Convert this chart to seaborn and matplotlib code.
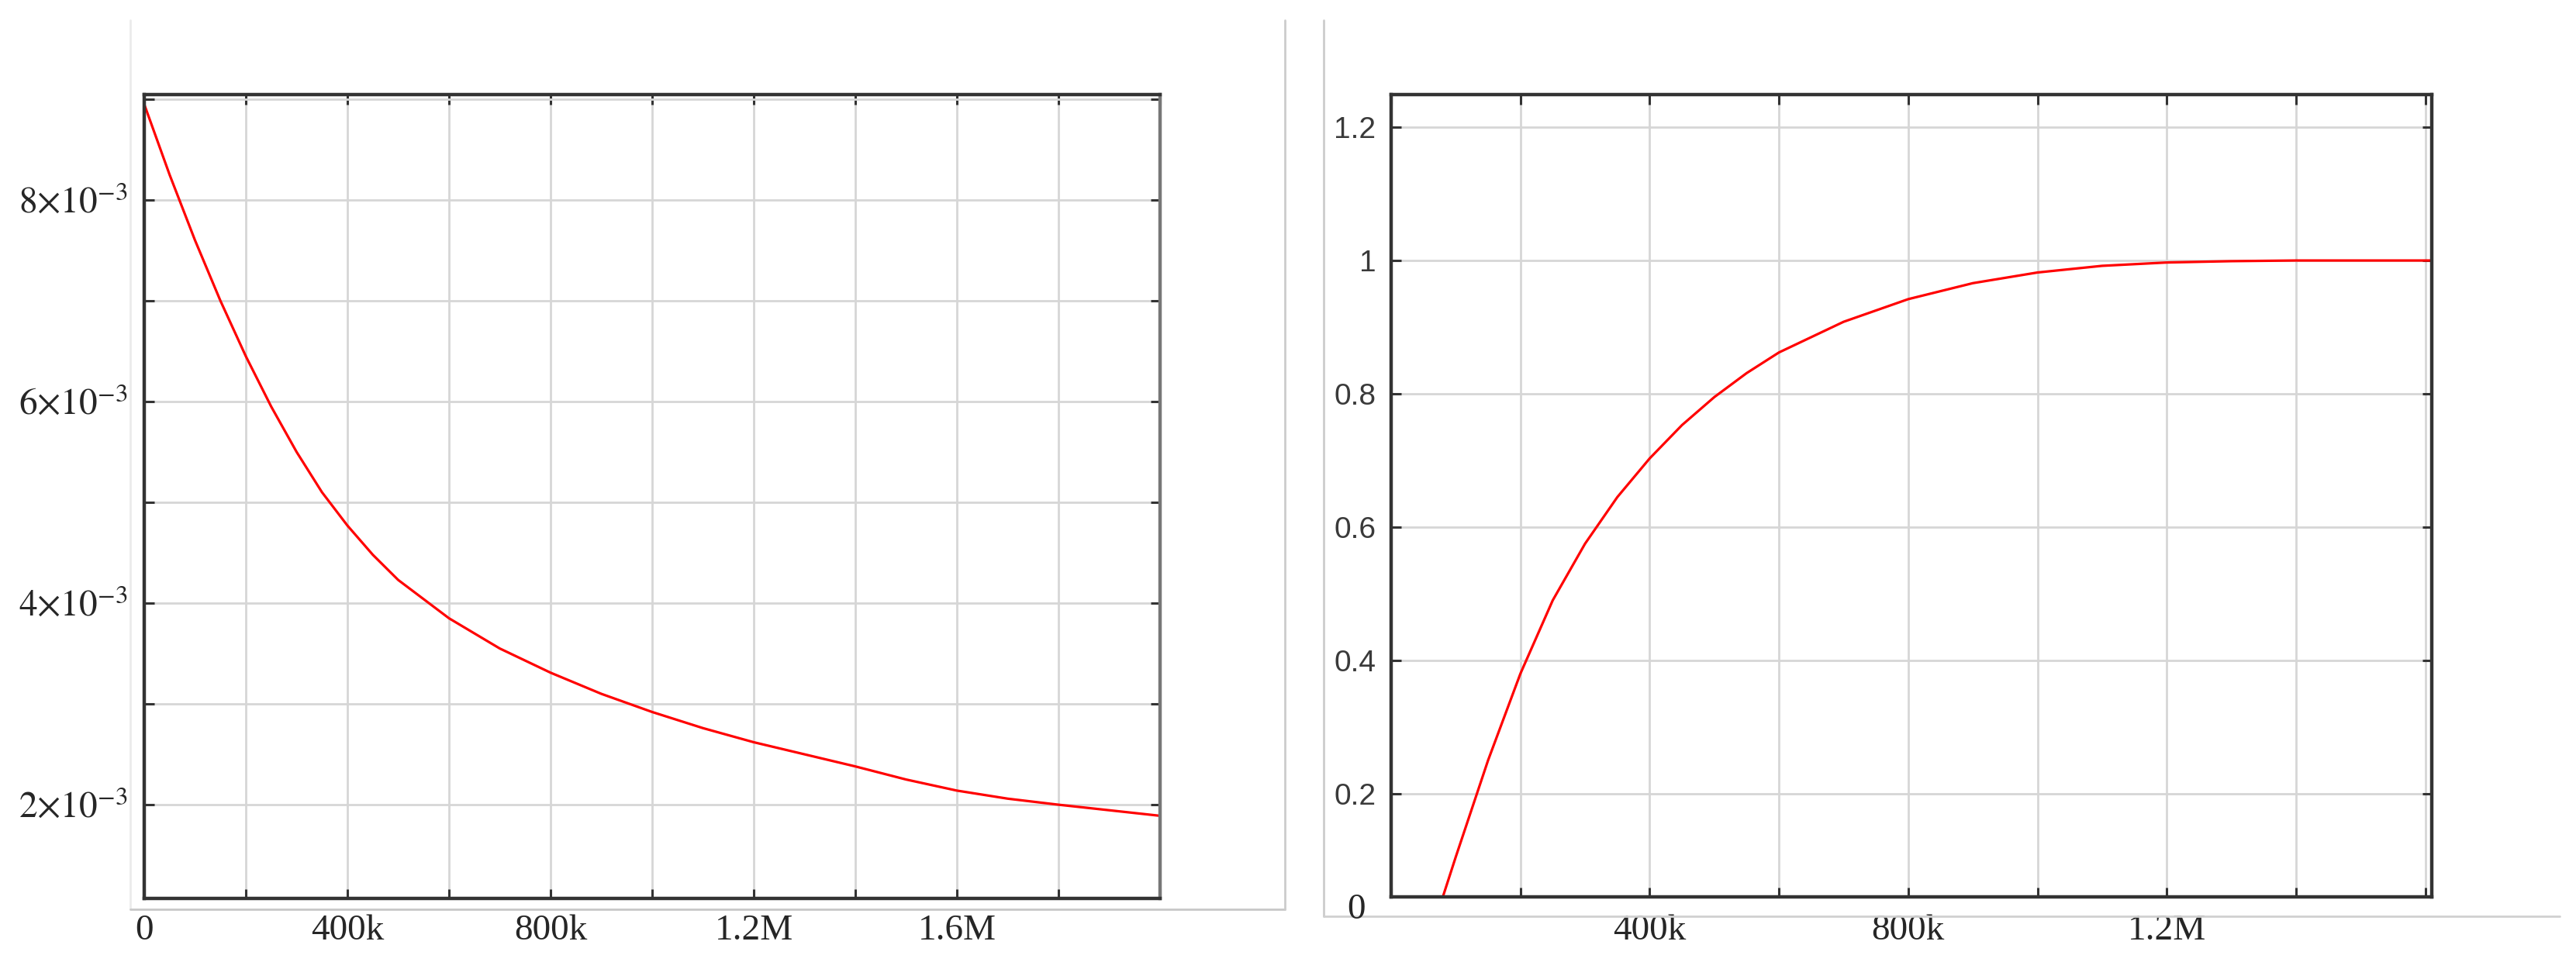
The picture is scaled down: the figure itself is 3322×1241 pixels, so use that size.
import matplotlib
matplotlib.use('Agg')
import matplotlib.pyplot as plt
from matplotlib.lines import Line2D
import seaborn as sns
import numpy as np

# left panel: decaying curve
left_x = [0, 50e3, 100e3, 150e3, 200e3, 250e3, 300e3, 350e3, 400e3, 450e3, 500e3,
          600e3, 700e3, 800e3, 900e3, 1000e3, 1100e3, 1200e3, 1300e3, 1400e3,
          1500e3, 1600e3, 1700e3, 1800e3, 1900e3, 2000e3]
left_y = [8.95e-3, 8.25e-3, 7.60e-3, 7.00e-3, 6.45e-3, 5.95e-3, 5.50e-3, 5.10e-3,
          4.77e-3, 4.48e-3, 4.23e-3, 3.85e-3, 3.55e-3, 3.31e-3, 3.10e-3, 2.92e-3,
          2.76e-3, 2.62e-3, 2.50e-3, 2.38e-3, 2.25e-3, 2.14e-3, 2.06e-3, 2.00e-3,
          1.945e-3, 1.89e-3]

# right panel: saturating curve
right_x = [65e3, 100e3, 150e3, 200e3, 250e3, 300e3, 350e3, 400e3, 450e3, 500e3,
           550e3, 600e3, 700e3, 800e3, 900e3, 1000e3, 1100e3, 1200e3, 1300e3,
           1400e3, 1500e3, 1610e3]
right_y = [0.0, 0.105, 0.25, 0.38, 0.49, 0.575, 0.645, 0.703, 0.753, 0.795,
           0.831, 0.862, 0.908, 0.942, 0.966, 0.982, 0.992, 0.997, 0.999,
           1.0, 1.0, 1.0]

left_xticks = [0, 200e3, 400e3, 600e3, 800e3, 1000e3, 1200e3, 1400e3, 1600e3, 1800e3, 2000e3]
left_xlabels = ['0', '', '400k', '', '800k', '', '1.2M', '', '1.6M', '', '']
left_yticks = [2e-3, 3e-3, 4e-3, 5e-3, 6e-3, 7e-3, 8e-3, 9e-3]
left_ylabels = [r'$2{\times}10^{-3}$', '', r'$4{\times}10^{-3}$', '',
                r'$6{\times}10^{-3}$', '', r'$8{\times}10^{-3}$', '']

right_xticks = [0, 200e3, 400e3, 600e3, 800e3, 1000e3, 1200e3, 1400e3, 1600e3]
right_xlabels = ['', '', '400k', '', '800k', '', '1.2M', '', '']
right_yticks = [0.2, 0.4, 0.6, 0.8, 1.0, 1.2]
right_ylabels = ['0.2', '0.4', '0.6', '0.8', '1', '1.2']

sns.set_style('white')
plt.rcParams['mathtext.fontset'] = 'stix'
plt.rcParams['font.family'] = ['Liberation Serif', 'DejaVu Serif']

W, H = 3323, 1241
fig = plt.figure(figsize=(W / 100, H / 100), dpi=100)


def box(l, t, r, b):
    return [l / W, 1 - b / H, (r - l) / W, (b - t) / H]


def style(ax):
    for s in ax.spines.values():
        s.set_visible(True)
        s.set_color('#333333')
        s.set_linewidth(3.2)
    ax.grid(True, color='#d6d6d6', linewidth=2)
    ax.set_axisbelow(True)
    ax.tick_params(direction='in', length=9, width=2.2, color='#333333',
                   top=True, right=True, bottom=True, left=True)
    ax.set_xlabel('')
    ax.set_ylabel('')


ax1 = fig.add_axes(box(186, 122, 1496, 1159))
sns.lineplot(x=left_x, y=left_y, ax=ax1, color='#ff0000', linewidth=2.3)
ax1.set_xlim(0, 2.0e6)
ax1.set_ylim(1.07e-3, 9.046e-3)
ax1.set_xticks(left_xticks)
ax1.set_xticklabels(left_xlabels)
ax1.set_yticks(left_yticks)
ax1.set_yticklabels(left_ylabels)
style(ax1)
ax1.tick_params(axis='x', labelsize=34, pad=15)
ax1.tick_params(axis='y', labelsize=34, pad=15)
ax1.spines['right'].set_color('#777777')

ax2 = fig.add_axes(box(1794, 122, 3136, 1157))
sns.lineplot(x=right_x, y=right_y, ax=ax2, color='#ff0000', linewidth=2.3)
ax2.set_xlim(0, 1.61e6)
ax2.set_ylim(0.045, 1.249)
ax2.set_xticks(right_xticks)
ax2.set_xticklabels(right_xlabels)
ax2.set_yticks(right_yticks)
ax2.set_yticklabels(right_ylabels, family=['Liberation Sans', 'DejaVu Sans'],
                    color='#3a3a3a')
style(ax2)
ax2.tick_params(axis='x', labelsize=34, pad=16)
ax2.tick_params(axis='y', labelsize=28, pad=14)
fig.text(1749 / W, 1 - 1174 / H, '0', ha='center', va='center', fontsize=34)

# light panel frames
frame = dict(transform=fig.transFigure, linewidth=2)
fig.add_artist(Line2D([168 / W, 168 / W], [1 - 26 / H, 1 - 1173 / H], color='#ebebeb', **frame))
fig.add_artist(Line2D([168 / W, 1657 / W], [1 - 1173 / H, 1 - 1173 / H], color='#c8c8c8', **frame))
fig.add_artist(Line2D([1657 / W, 1657 / W], [1 - 26 / H, 1 - 1173 / H], color='#cccccc', **frame))
fig.add_artist(Line2D([1707 / W, 1707 / W], [1 - 26 / H, 1 - 1182 / H], color='#cccccc', **frame))
fig.add_artist(Line2D([1707 / W, 3301 / W], [1 - 1182 / H, 1 - 1182 / H], color='#d0d0d0', **frame))

fig.savefig('out.png', dpi=100)
